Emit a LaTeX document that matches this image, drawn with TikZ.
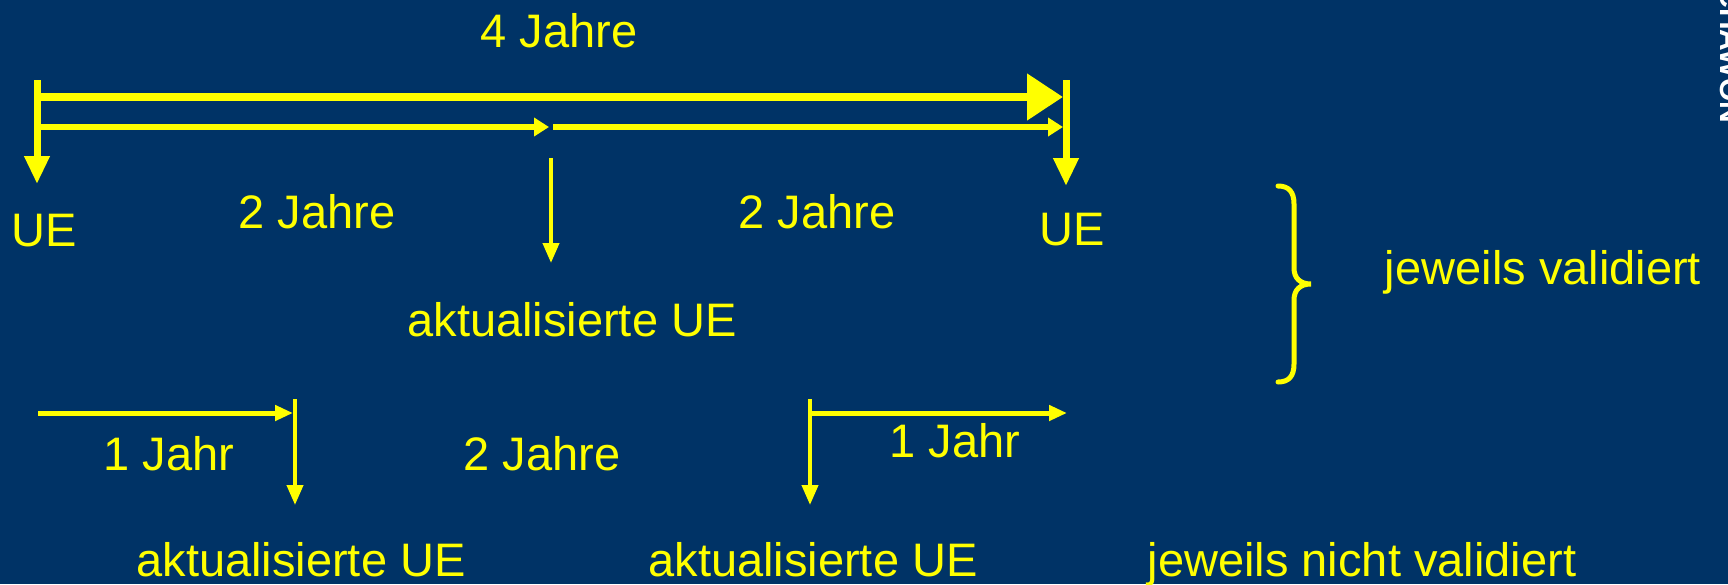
\documentclass[tikz,border=0pt]{standalone}
\usepackage{fontspec}
\setmainfont{Liberation Sans}
\usetikzlibrary{arrows.meta}
\definecolor{navy}{RGB}{0,51,102}
\definecolor{signal}{RGB}{255,255,0}

\begin{document}
\begin{tikzpicture}[x=0.5pt,y=-0.5pt,
  lbl/.style={text=signal, font=\fontsize{23.5}{28}\selectfont, inner sep=0pt, anchor=base},
  sidemark/.style={text=white, font=\fontsize{15}{18}\selectfont\bfseries, inner sep=0pt},
  endbar/.style={draw=signal, line width=3.5pt, -{Triangle[length=14pt,width=12pt]}},
  span/.style={draw=signal, line width=4pt, -{Triangle[length=18pt,width=22.5pt]}},
  halfspan/.style={draw=signal, line width=3pt, -{Triangle[length=7.5pt,width=9pt]}},
  update/.style={draw=signal, line width=2pt, -{Triangle[length=10pt,width=8pt]}},
  yearline/.style={draw=signal, line width=2.5pt, -{Triangle[length=9pt,width=7.5pt]}},
  bracket/.style={draw=signal, line width=2.5pt, line cap=round}
]
% background
\fill[navy] (0,0) rectangle (1728,584);
\useasboundingbox (0,0) rectangle (1728,584);

% side mark, cut by the page edge
\begin{scope}
  \clip (0,0) rectangle (1728,584);
  \node[sidemark, rotate=-90, anchor=base west] (side) at (1720,-14) {CHAWON};
\end{scope}

% key points of the time lines
\coordinate (L0) at (37,80);   \coordinate (L1) at (37,184);
\coordinate (R0) at (1066,80); \coordinate (R1) at (1066,186);
\coordinate (T0) at (37,97);   \coordinate (T1) at (1063,97);
\coordinate (H0) at (37,127);  \coordinate (Hm) at (549,127);
\coordinate (Hn) at (553,127); \coordinate (H1) at (1063,127);
\coordinate (M0) at (551,158); \coordinate (M1) at (551,263);
\coordinate (A0) at (38,413);  \coordinate (A1) at (293,413);
\coordinate (B0) at (295,399); \coordinate (B1) at (295,505);
\coordinate (C0) at (810,399); \coordinate (C1) at (810,505);
\coordinate (D0) at (810,413); \coordinate (D1) at (1067,413);

% four-year cycle with the two-year update
\draw[endbar] (L0) -- (L1);
\draw[endbar] (R0) -- (R1);
\draw[span] (T0) -- (T1);
\draw[halfspan] (H0) -- (Hm);
\draw[halfspan] (Hn) -- (H1);
\draw[update] (M0) -- (M1);

% yearly updates
\draw[yearline] (A0) -- (A1);
\draw[update] (B0) -- (B1);
\draw[update] (C0) -- (C1);
\draw[yearline] (D0) -- (D1);

% brace grouping the validated statements
\draw[bracket] (1278,186) .. controls (1289,186) and (1294,192) .. (1294,204)
  -- (1294,268) .. controls (1294,278) and (1300,284) .. (1311,284)
  .. controls (1300,284) and (1294,290) .. (1294,300)
  -- (1294,364) .. controls (1294,376) and (1289,382) .. (1278,382);

% labels
\node[lbl] (t4)   at (559,47)  {4 Jahre};
\node[lbl] (ue1)  at (44,246)  {UE};
\node[lbl] (j2a)  at (317,228) {2 Jahre};
\node[lbl] (j2b)  at (817,228) {2 Jahre};
\node[lbl] (ue2)  at (1072,245) {UE};
\node[lbl] (akt1) at (572,336) {aktualisierte UE};
\node[lbl] (val)  at (1543,284) {jeweils validiert};
\node[lbl] (j1a)  at (169,470) {1 Jahr};
\node[lbl] (j2c)  at (542,470) {2 Jahre};
\node[lbl] (j1b)  at (955,457) {1 Jahr};
\node[lbl] (akt2) at (301,576) {aktualisierte UE};
\node[lbl] (akt3) at (813,576) {aktualisierte UE};
\node[lbl] (nval) at (1362,576) {jeweils nicht validiert};
\end{tikzpicture}
\end{document}
